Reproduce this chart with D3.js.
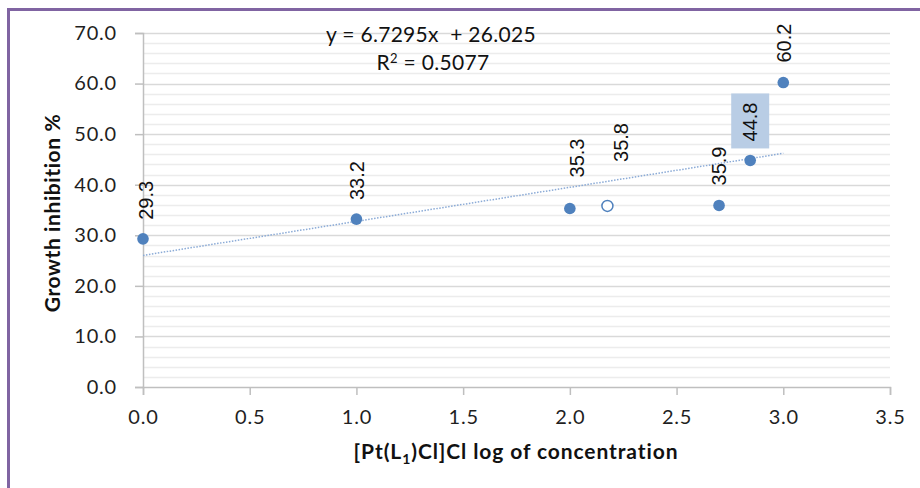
<!DOCTYPE html>
<html>
<head>
<meta charset="utf-8">
<script src="https://cdn.jsdelivr.net/npm/d3@7"></script>
<style>
  body { margin: 0; background: #fff; }
  svg { display: block; }
</style>
</head>
<body>
<div id="chart"></div>
<script>
// Log of concentration vs growth inhibition (%)
var logConc   = [0, 1, 2, 2.176, 2.699, 2.845, 3.0],
    inhibition = [29.3, 33.2, 35.3, 35.8, 35.9, 44.8, 60.2],
    labelText = ["29.3", "33.2", "35.3", "35.8", "35.9", "44.8", "60.2"],
    hollow    = [false, false, false, true, false, false, false],
    xTicks    = [0, 0.5, 1, 1.5, 2, 2.5, 3, 3.5],
    yTicks    = [0, 10, 20, 30, 40, 50, 60, 70],
    slope = 6.7295, intercept = 26.025,
    eqText = "y = 6.7295x  + 26.025",
    r2Text = "0.5077";

var width = 920, height = 488;
var blue = "#4f81bd";

var svg = d3.select("#chart").append("svg")
    .attr("width", width)
    .attr("height", height);

// purple frame, runs off the right and bottom edge
svg.append("rect")
    .attr("x", 8.5).attr("y", 9.5)
    .attr("width", 1000).attr("height", 600)
    .attr("fill", "#fff")
    .attr("stroke", "#8064a2")
    .attr("stroke-width", 3);

var x = d3.scaleLinear().domain([0, 3.5]).range([143, 890]),
    y = d3.scaleLinear().domain([0, 70]).range([387, 33]);

// minor gridlines every 2
svg.append("g").selectAll("line")
    .data(d3.range(0, 70.1, 2).filter(function(v) { return v % 10 !== 0; }))
  .enter().append("line")
    .attr("x1", x(0)).attr("x2", x(3.5))
    .attr("y1", function(d) { return Math.round(y(d)) + 0.5; })
    .attr("y2", function(d) { return Math.round(y(d)) + 0.5; })
    .attr("stroke", "#ececec")
    .attr("stroke-width", 1.5);

// major gridlines
svg.append("g").selectAll("line")
    .data(yTicks.slice(1))
  .enter().append("line")
    .attr("x1", x(0)).attr("x2", x(3.5))
    .attr("y1", function(d) { return Math.round(y(d)) + 0.5; })
    .attr("y2", function(d) { return Math.round(y(d)) + 0.5; })
    .attr("stroke", "#d9d9d9")
    .attr("stroke-width", 1.5);

var tickFont = "Lato, 'Open Sans', sans-serif";

var yAxis = svg.append("g")
    .attr("transform", "translate(" + x(0) + ",0)")
    .call(d3.axisLeft(y).tickValues(yTicks).tickSize(8).tickPadding(18)
      .tickFormat(d3.format(".1f")));

var xAxis = svg.append("g")
    .attr("transform", "translate(0," + y(0) + ")")
    .call(d3.axisBottom(x).tickValues(xTicks).tickSize(8).tickPadding(15)
      .tickFormat(d3.format(".1f")));

[xAxis, yAxis].forEach(function(g) {
  g.select(".domain").attr("stroke", "#bfbfbf").attr("stroke-width", 1.5);
  g.selectAll(".tick line").attr("stroke", "#bfbfbf").attr("stroke-width", 1.5);
  g.selectAll(".tick text")
    .attr("fill", "#1f1f1f")
    .style("font-family", tickFont)
    .style("font-size", "20px")
    .style("letter-spacing", "0.8px");
});

// linear trendline
svg.append("line")
    .attr("x1", x(0)).attr("y1", y(intercept))
    .attr("x2", x(d3.max(logConc))).attr("y2", y(slope * d3.max(logConc) + intercept))
    .attr("stroke", "#8aaad6")
    .attr("stroke-width", 1.5)
    .attr("stroke-dasharray", "1.5,1.5");

var points = logConc.map(function(v, i) {
  return { x: v, y: inhibition[i], label: labelText[i], hollow: hollow[i], i: i };
});

svg.append("g").selectAll("circle")
    .data(points)
  .enter().append("circle")
    .attr("cx", function(d) { return x(d.x); })
    .attr("cy", function(d) { return y(d.y); })
    .attr("r", function(d) { return d.hollow ? 5.5 : 5.8; })
    .attr("fill", function(d) { return d.hollow ? "#fff" : blue; })
    .attr("stroke", blue)
    .attr("stroke-width", function(d) { return d.hollow ? 1.5 : 0; });

// data labels sit above each point; a few were dragged by hand in the original
var nudge = { 0: [3, -19], 2: [7, -31], 3: [13, -44], 4: [0, -20], 6: [1, -20] };

var labels = svg.append("g").selectAll("g")
    .data(points)
  .enter().append("g")
    .attr("transform", function(d) {
      var n = nudge[d.i] || [0, -19];
      return "translate(" + (x(d.x) + n[0]) + "," + (y(d.y) + n[1]) + ")";
    });

// highlighted label box
labels.filter(function(d) { return d.i === 5; })
  .append("rect")
    .attr("x", -19).attr("y", -48)
    .attr("width", 38).attr("height", 55)
    .attr("fill", "#b9cde5");

labels.append("text")
    .attr("transform", "rotate(-90)")
    .attr("dy", "0.36em")
    .attr("text-anchor", "start")
    .attr("fill", "#111")
    .style("font-family", "'Liberation Sans', Arial, sans-serif")
    .style("font-size", "20px")
    .text(function(d) { return d.label; });

// trendline equation
svg.append("text")
    .attr("x", 431).attr("y", 42)
    .attr("text-anchor", "middle")
    .attr("fill", "#111")
    .style("font-family", tickFont)
    .style("font-size", "21px")
    .style("letter-spacing", "0.3px")
    .style("white-space", "pre")
    .attr("xml:space", "preserve")
    .text(eqText);

var r2 = svg.append("text")
    .attr("x", 433).attr("y", 70)
    .attr("text-anchor", "middle")
    .attr("fill", "#111")
    .style("font-family", tickFont)
    .style("font-size", "21px")
    .style("letter-spacing", "0.3px");
r2.append("tspan").text("R");
r2.append("tspan").attr("dy", -7).style("font-size", "13px").text("2");
r2.append("tspan").attr("dy", 7).text(" = " + r2Text);

// axis titles
svg.append("text")
    .attr("transform", "translate(60,213) rotate(-90)")
    .attr("text-anchor", "middle")
    .attr("fill", "#111")
    .style("font-family", tickFont)
    .style("font-weight", "bold")
    .style("font-size", "21px")
    .style("letter-spacing", "0.6px")
    .text("Growth inhibition %");

var xt = svg.append("text")
    .attr("x", 516).attr("y", 459)
    .attr("text-anchor", "middle")
    .attr("fill", "#111")
    .style("font-family", tickFont)
    .style("font-weight", "bold")
    .style("font-size", "21px")
    .style("letter-spacing", "0.9px");
xt.append("tspan").text("[Pt(L");
xt.append("tspan").attr("dy", 5).style("font-size", "14px").text("1");
xt.append("tspan").attr("dy", -5).text(")Cl]Cl log of concentration");
</script>
</body>
</html>
